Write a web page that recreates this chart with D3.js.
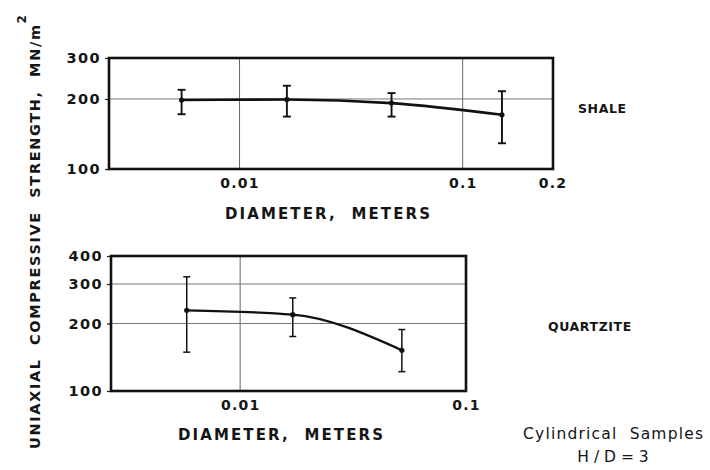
<!DOCTYPE html>
<html>
<head>
<meta charset="utf-8">
<script src="https://cdn.jsdelivr.net/npm/d3@7/dist/d3.min.js"></script>
<style>
  body { margin: 0; background: #fff; }
  text { font-family: "DejaVu Sans", sans-serif; fill: #151515; white-space: pre; }
</style>
</head>
<body>
<svg id="chart" width="710" height="470"></svg>
<script>
// Shale: mean strength (MN/m^2) with low/high spread, by sample diameter (m)
const shaleDiameter = [0.0055, 0.0163, 0.048, 0.15];
const shaleStrength = [198, 199, 192, 171];
const shaleLow      = [172, 168, 168, 129];
const shaleHigh     = [219, 228, 212, 216];

// Quartzite
const quartziteDiameter = [0.0058, 0.0171, 0.052];
const quartziteStrength = [229, 219, 152];
const quartziteLow      = [149, 175, 122];
const quartziteHigh     = [323, 260, 188];

// Axes
const shaleXDomain = [0.0026, 0.254];
const shaleXTicks = [0.01, 0.1];
const shaleXTickLabels = ["0.01", "0.1"];
const shaleXEndLabel = "0.2";
const shaleYDomain = [100, 300];
const shaleYTicks = [100, 200, 300];

const quartziteXDomain = [0.00268, 0.1];
const quartziteXTicks = [0.01, 0.1];
const quartziteXTickLabels = ["0.01", "0.1"];
const quartziteYDomain = [100, 400];
const quartziteYTicks = [100, 200, 300, 400];

const svg = d3.select("#chart");
const LABEL_WEIGHT = 700;

function panel(o) {
  const x = d3.scaleLog().domain(o.xDomain).range([o.left, o.right]);
  const y = d3.scaleLog().domain(o.yDomain).range([o.bottom, o.top]);
  const g = svg.append("g");

  // interior grid lines
  g.selectAll(".vg").data(o.xTicks.filter(t => t > o.xDomain[0] && t < o.xDomain[1]))
    .join("line")
    .attr("x1", d => x(d)).attr("x2", d => x(d))
    .attr("y1", o.top).attr("y2", o.bottom)
    .attr("stroke", "#666").attr("stroke-width", 1);
  g.selectAll(".hg").data(o.yTicks.filter(t => t > o.yDomain[0] && t < o.yDomain[1]))
    .join("line")
    .attr("x1", o.left).attr("x2", o.right)
    .attr("y1", d => y(d)).attr("y2", d => y(d))
    .attr("stroke", "#777").attr("stroke-width", 1);

  // y axis labels
  const ya = g.append("g").attr("transform", `translate(${o.left},0)`)
    .call(d3.axisLeft(y).tickValues(o.yTicks).tickFormat(d3.format("d")).tickSize(4).tickPadding(4));
  ya.select(".domain").remove();
  ya.selectAll(".tick line").attr("stroke", "#222").attr("stroke-width", 1.2);
  ya.selectAll(".tick text").attr("font-size", 14.5).attr("letter-spacing", 1.4)
    .attr("font-weight", LABEL_WEIGHT)
    .attr("fill", "#151515").style("font-family", "DejaVu Sans");

  // x axis labels
  const labelOf = new Map(o.xTicks.map((t, i) => [t, o.xTickLabels[i]]));
  const xa = g.append("g").attr("transform", `translate(0,${o.bottom})`)
    .call(d3.axisBottom(x).tickValues(o.xTicks).tickFormat(d => labelOf.get(d)).tickSize(0).tickPadding(9));
  xa.select(".domain").remove();
  xa.selectAll(".tick text").attr("font-size", 14).attr("letter-spacing", 1.2)
    .attr("font-weight", LABEL_WEIGHT)
    .attr("fill", "#151515").style("font-family", "DejaVu Sans");
  if (o.xEndLabel) {
    xa.append("text").attr("x", o.right).attr("y", 9).attr("dy", "0.71em")
      .attr("text-anchor", "middle").attr("font-size", 14).attr("letter-spacing", 1.2)
      .attr("font-weight", LABEL_WEIGHT)
      .attr("fill", "#151515").style("font-family", "DejaVu Sans")
      .text(o.xEndLabel);
  }

  // spread bars
  const pts = o.dia.map((d, i) => ({ d, v: o.val[i], lo: o.lo[i], hi: o.hi[i] }));
  const bars = g.append("g").attr("stroke", "#111").attr("stroke-width", o.barWidth);
  bars.selectAll(".v").data(pts).join("line")
    .attr("x1", p => x(p.d)).attr("x2", p => x(p.d))
    .attr("y1", p => y(p.lo)).attr("y2", p => y(p.hi));
  bars.selectAll(".ch").data(pts).join("line")
    .attr("x1", p => x(p.d) - o.cap).attr("x2", p => x(p.d) + o.cap)
    .attr("y1", p => y(p.hi)).attr("y2", p => y(p.hi));
  bars.selectAll(".cl").data(pts).join("line")
    .attr("x1", p => x(p.d) - o.cap).attr("x2", p => x(p.d) + o.cap)
    .attr("y1", p => y(p.lo)).attr("y2", p => y(p.lo));

  // trend curve through the means
  const line = d3.line().x(p => x(p.d)).y(p => y(p.v)).curve(d3.curveMonotoneX);
  g.append("path").datum(pts).attr("d", line)
    .attr("fill", "none").attr("stroke", "#111").attr("stroke-width", o.lineWidth)
    .attr("stroke-linejoin", "round");
  g.selectAll(".pt").data(pts).join("circle")
    .attr("cx", p => x(p.d)).attr("cy", p => y(p.v)).attr("r", 2.6).attr("fill", "#111");

  // frame
  g.append("rect").attr("x", o.left).attr("y", o.top)
    .attr("width", o.right - o.left).attr("height", o.bottom - o.top)
    .attr("fill", "none").attr("stroke", "#111").attr("stroke-width", 2.6);

  // axis title
  g.append("text").attr("x", o.titleX).attr("y", o.titleY)
    .attr("font-size", 15).attr("font-weight", LABEL_WEIGHT)
    .attr("textLength", o.titleLen).attr("lengthAdjust", "spacing")
    .text("DIAMETER,  METERS");

  // rock name
  g.append("text").attr("x", o.nameX).attr("y", o.nameY)
    .attr("font-size", 12.5).attr("font-weight", LABEL_WEIGHT).attr("letter-spacing", 0.6)
    .text(o.name);
}

panel({
  xDomain: shaleXDomain, yDomain: shaleYDomain,
  xTicks: shaleXTicks, xTickLabels: shaleXTickLabels, xEndLabel: shaleXEndLabel, yTicks: shaleYTicks,
  left: 109, right: 553, top: 58, bottom: 169,
  dia: shaleDiameter, val: shaleStrength, lo: shaleLow, hi: shaleHigh,
  barWidth: 1.9, cap: 4, lineWidth: 2.6,
  titleX: 225, titleY: 219, titleLen: 205,
  name: "SHALE", nameX: 578, nameY: 113
});

panel({
  xDomain: quartziteXDomain, yDomain: quartziteYDomain,
  xTicks: quartziteXTicks, xTickLabels: quartziteXTickLabels, yTicks: quartziteYTicks,
  left: 111, right: 466, top: 256, bottom: 391,
  dia: quartziteDiameter, val: quartziteStrength, lo: quartziteLow, hi: quartziteHigh,
  barWidth: 1.5, cap: 3.5, lineWidth: 2.3,
  titleX: 178, titleY: 440, titleLen: 205,
  name: "QUARTZITE", nameX: 548, nameY: 331
});

// shared y title
const yt = svg.append("text")
  .attr("transform", "translate(40,449) rotate(-90)")
  .attr("font-size", 14.5).attr("font-weight", LABEL_WEIGHT);
yt.append("tspan").attr("textLength", 424).attr("lengthAdjust", "spacing")
  .text("UNIAXIAL  COMPRESSIVE  STRENGTH,  MN/m");
yt.append("tspan").attr("font-size", 12).attr("dy", -14).text("2");

// note
svg.append("text").attr("x", 523).attr("y", 439).attr("font-size", 15.5)
  .attr("textLength", 180).attr("lengthAdjust", "spacing").text("Cylindrical  Samples");
svg.append("text").attr("x", 613).attr("y", 462).attr("font-size", 15.5)
  .attr("text-anchor", "middle").text("H / D = 3");
</script>
</body>
</html>
